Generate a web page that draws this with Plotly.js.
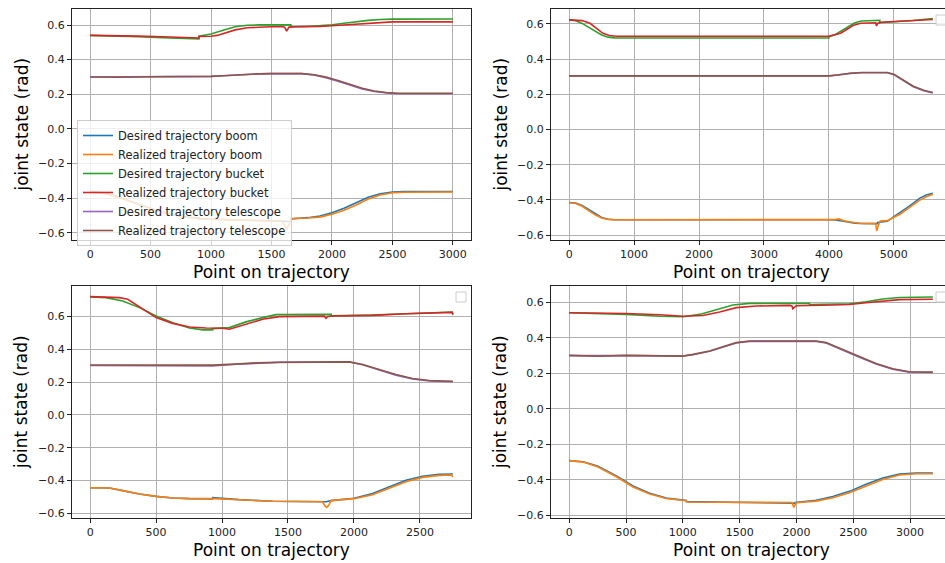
<!DOCTYPE html>
<html>
<head>
<meta charset="utf-8">
<script src="https://cdn.plot.ly/plotly-3.0.1.min.js"></script>
<style>
  html, body { margin: 0; padding: 0; overflow: hidden; background: #fff; }
  #chart { width: 960px; height: 563px; }
</style>
</head>
<body>
<div id="chart"></div>
<script>
// ---- Series names ----
const seriesNames = [
  "Desired trajectory boom", "Realized trajectory boom",
  "Desired trajectory bucket", "Realized trajectory bucket",
  "Desired trajectory telescope", "Realized trajectory telescope"
];
const seriesColors = ["#1f77b4", "#ff7f0e", "#2ca02c", "#d62728", "#9467bd", "#8c564b"];

// ---- Run 1 (3000 points) ----
const r1_boomDesX = [0, 100, 200, 300, 400, 500, 600, 700, 800, 900, 900, 1100, 1300, 1500, 1660, 1660, 1800, 1900, 2000, 2100, 2200, 2300, 2400, 2500, 2600, 3000];
const r1_boomDesY = [-0.362, -0.368, -0.385, -0.41, -0.435, -0.458, -0.48, -0.498, -0.51, -0.515, -0.52, -0.525, -0.53, -0.533, -0.535, -0.52, -0.513, -0.503, -0.485, -0.458, -0.425, -0.395, -0.375, -0.365, -0.362, -0.362];
const r1_boomRealX = [0, 100, 200, 300, 400, 500, 600, 700, 800, 900, 1000, 1200, 1400, 1580, 1600, 1625, 1645, 1660, 1800, 1900, 2000, 2100, 2200, 2300, 2400, 2500, 2600, 3000];
const r1_boomRealY = [-0.364, -0.37, -0.388, -0.413, -0.438, -0.46, -0.482, -0.5, -0.512, -0.518, -0.522, -0.526, -0.53, -0.532, -0.545, -0.58, -0.555, -0.518, -0.515, -0.51, -0.493, -0.47, -0.44, -0.405, -0.382, -0.369, -0.366, -0.365];
const r1_bucketDesX = [0, 200, 400, 600, 800, 900, 900, 1000, 1100, 1200, 1300, 1400, 1660, 1660, 1800, 1900, 2000, 2100, 2200, 2300, 2400, 2500, 3000];
const r1_bucketDesY = [0.54, 0.537, 0.532, 0.526, 0.521, 0.52, 0.535, 0.548, 0.57, 0.59, 0.599, 0.601, 0.601, 0.59, 0.591, 0.595, 0.601, 0.61, 0.619, 0.627, 0.632, 0.634, 0.635];
const r1_bucketRealX = [0, 200, 400, 600, 800, 900, 900, 1000, 1050, 1100, 1200, 1300, 1400, 1500, 1600, 1610, 1625, 1645, 1700, 1800, 1900, 2000, 2100, 2200, 2300, 2400, 2500, 3000];
const r1_bucketRealY = [0.54, 0.539, 0.536, 0.532, 0.527, 0.525, 0.534, 0.535, 0.54, 0.55, 0.572, 0.584, 0.588, 0.59, 0.59, 0.585, 0.565, 0.588, 0.59, 0.59, 0.592, 0.596, 0.601, 0.607, 0.612, 0.616, 0.618, 0.618];
const r1_teleDesX = [0, 900, 1000, 1100, 1200, 1300, 1400, 1500, 1750, 1850, 1950, 2050, 2150, 2250, 2350, 2450, 2550, 3000];
const r1_teleDesY = [0.30, 0.30, 0.303, 0.307, 0.312, 0.316, 0.318, 0.319, 0.319, 0.312, 0.296, 0.275, 0.252, 0.231, 0.216, 0.207, 0.203, 0.203];
const r1_teleRealX = [0, 250, 500, 900, 1000, 1100, 1200, 1300, 1400, 1500, 1750, 1850, 1950, 2050, 2150, 2250, 2350, 2450, 2550, 3000];
const r1_teleRealY = [0.30, 0.298, 0.301, 0.30, 0.303, 0.307, 0.312, 0.316, 0.318, 0.319, 0.319, 0.313, 0.299, 0.279, 0.256, 0.235, 0.219, 0.21, 0.206, 0.206];

// ---- Run 2 (5600 points) ----
const r2_boomDesX = [0, 100, 200, 300, 400, 500, 600, 700, 4000, 4100, 4200, 4300, 4400, 4500, 4750, 4750, 4900, 5000, 5100, 5200, 5300, 5400, 5500, 5600];
const r2_boomDesY = [-0.415, -0.418, -0.432, -0.455, -0.48, -0.5, -0.51, -0.513, -0.513, -0.514, -0.52, -0.527, -0.532, -0.534, -0.535, -0.528, -0.522, -0.495, -0.472, -0.445, -0.418, -0.39, -0.372, -0.362];
const r2_boomRealX = [0, 100, 200, 300, 400, 500, 600, 700, 4000, 4100, 4150, 4200, 4300, 4400, 4500, 4720, 4735, 4760, 4790, 4900, 5000, 5100, 5200, 5300, 5400, 5500, 5600];
const r2_boomRealY = [-0.416, -0.42, -0.436, -0.46, -0.485, -0.503, -0.511, -0.513, -0.513, -0.512, -0.508, -0.515, -0.524, -0.531, -0.534, -0.535, -0.576, -0.545, -0.52, -0.518, -0.501, -0.48, -0.454, -0.427, -0.401, -0.382, -0.368];
const r2_bucketDesX = [0, 100, 200, 300, 400, 500, 600, 700, 4000, 4000, 4100, 4200, 4300, 4400, 4500, 4784, 4784, 5000, 5300, 5600];
const r2_bucketDesY = [0.623, 0.618, 0.603, 0.58, 0.555, 0.537, 0.525, 0.521, 0.52, 0.528, 0.54, 0.562, 0.588, 0.607, 0.617, 0.621, 0.607, 0.612, 0.62, 0.631];
const r2_bucketRealX = [0, 100, 200, 320, 420, 520, 620, 730, 4000, 4070, 4180, 4280, 4380, 4490, 4640, 4720, 4733, 4750, 4794, 5000, 5360, 5600];
const r2_bucketRealY = [0.623, 0.621, 0.619, 0.604, 0.575, 0.547, 0.534, 0.53, 0.53, 0.536, 0.547, 0.57, 0.593, 0.604, 0.608, 0.607, 0.589, 0.603, 0.61, 0.613, 0.621, 0.625];
const r2_teleDesX = [0, 4000, 4150, 4330, 4500, 4900, 5000, 5150, 5300, 5460, 5600];
const r2_teleDesY = [0.304, 0.304, 0.31, 0.319, 0.323, 0.323, 0.312, 0.278, 0.243, 0.22, 0.208];
const r2_teleRealX = [0, 1000, 2000, 3000, 4000, 4150, 4330, 4500, 4900, 5000, 5150, 5300, 5460, 5600];
const r2_teleRealY = [0.305, 0.306, 0.305, 0.306, 0.305, 0.311, 0.32, 0.324, 0.324, 0.314, 0.28, 0.246, 0.223, 0.21];

// ---- Run 3 (2750 points) ----
const r3_boomDesX = [0, 146, 247, 374, 500, 626, 753, 929, 929, 1131, 1384, 1790, 1826, 2002, 2141, 2268, 2394, 2520, 2646, 2750];
const r3_boomDesY = [-0.444, -0.446, -0.462, -0.483, -0.497, -0.507, -0.511, -0.512, -0.505, -0.517, -0.527, -0.53, -0.523, -0.508, -0.48, -0.438, -0.398, -0.374, -0.362, -0.36];
const r3_boomRealX = [0, 146, 247, 374, 500, 626, 753, 929, 1131, 1384, 1763, 1780, 1793, 1810, 1826, 2002, 2141, 2268, 2394, 2520, 2646, 2740, 2750];
const r3_boomRealY = [-0.444, -0.446, -0.462, -0.483, -0.497, -0.507, -0.511, -0.511, -0.518, -0.527, -0.53, -0.555, -0.564, -0.55, -0.523, -0.511, -0.487, -0.448, -0.408, -0.381, -0.369, -0.367, -0.38];
const r3_bucketDesX = [0, 121, 247, 374, 500, 626, 753, 854, 929, 929, 1056, 1182, 1308, 1409, 1828, 1828, 2141, 2450, 2745, 2750];
const r3_bucketDesY = [0.72, 0.716, 0.696, 0.655, 0.604, 0.563, 0.531, 0.519, 0.519, 0.527, 0.533, 0.568, 0.594, 0.612, 0.614, 0.605, 0.61, 0.62, 0.628, 0.61];
const r3_bucketRealX = [0, 222, 285, 374, 500, 626, 753, 879, 1005, 1056, 1182, 1308, 1434, 1636, 1775, 1788, 1800, 1826, 2141, 2394, 2745, 2750];
const r3_bucketRealY = [0.722, 0.716, 0.706, 0.661, 0.594, 0.559, 0.537, 0.531, 0.529, 0.523, 0.553, 0.584, 0.6, 0.604, 0.603, 0.59, 0.6, 0.604, 0.608, 0.618, 0.626, 0.614];
const r3_teleDesX = [0, 929, 1100, 1258, 1434, 1965, 2066, 2192, 2318, 2444, 2571, 2750];
const r3_teleDesY = [0.302, 0.299, 0.309, 0.316, 0.321, 0.323, 0.306, 0.274, 0.243, 0.219, 0.207, 0.203];
const r3_teleRealX = [0, 929, 1100, 1258, 1434, 1965, 2066, 2192, 2318, 2444, 2571, 2750];
const r3_teleRealY = [0.305, 0.304, 0.31, 0.318, 0.322, 0.324, 0.308, 0.277, 0.247, 0.222, 0.21, 0.206];

// ---- Run 4 (3200 points) ----
const r4_boomDesX = [0, 123, 249, 416, 562, 709, 855, 999, 1031, 1031, 1500, 1990, 1990, 2173, 2320, 2466, 2613, 2759, 2906, 3052, 3200];
const r4_boomDesY = [-0.292, -0.298, -0.322, -0.378, -0.435, -0.476, -0.503, -0.513, -0.516, -0.523, -0.527, -0.532, -0.527, -0.515, -0.494, -0.465, -0.425, -0.39, -0.368, -0.362, -0.362];
const r4_boomRealX = [0, 123, 249, 416, 562, 709, 855, 999, 1031, 1045, 1500, 1960, 1977, 1998, 2173, 2320, 2466, 2613, 2759, 2906, 3052, 3200];
const r4_boomRealY = [-0.292, -0.3, -0.326, -0.383, -0.44, -0.48, -0.505, -0.514, -0.518, -0.525, -0.527, -0.528, -0.555, -0.529, -0.52, -0.501, -0.473, -0.436, -0.398, -0.373, -0.366, -0.366];
const r4_bucketDesX = [0, 500, 797, 1002, 1148, 1295, 1441, 1588, 2115, 2115, 2466, 2613, 2759, 2906, 3200];
const r4_bucketDesY = [0.541, 0.532, 0.522, 0.519, 0.532, 0.56, 0.585, 0.594, 0.594, 0.588, 0.592, 0.603, 0.619, 0.627, 0.63];
const r4_bucketRealX = [0, 500, 800, 1002, 1177, 1324, 1471, 1646, 1939, 1960, 1968, 1998, 2320, 2466, 2613, 2759, 2906, 3200];
const r4_bucketRealY = [0.541, 0.537, 0.53, 0.522, 0.526, 0.545, 0.57, 0.579, 0.583, 0.58, 0.564, 0.581, 0.585, 0.588, 0.598, 0.607, 0.615, 0.617];
const r4_teleDesX = [0, 250, 500, 1000, 1090, 1236, 1353, 1470, 1588, 2173, 2261, 2408, 2554, 2700, 2847, 2993, 3200];
const r4_teleDesY = [0.30, 0.298, 0.30, 0.298, 0.305, 0.324, 0.348, 0.371, 0.38, 0.38, 0.371, 0.333, 0.291, 0.253, 0.223, 0.207, 0.205];
const r4_teleRealX = [0, 250, 500, 1000, 1090, 1236, 1353, 1470, 1588, 2173, 2261, 2408, 2554, 2700, 2847, 2993, 3200];
const r4_teleRealY = [0.301, 0.296, 0.301, 0.297, 0.307, 0.326, 0.35, 0.373, 0.382, 0.382, 0.373, 0.335, 0.294, 0.256, 0.226, 0.209, 0.207];

// ---- Axis ticks ----
const yTickVals = [-0.6, -0.4, -0.2, 0.0, 0.2, 0.4, 0.6];
const xTickStep = [500, 1000, 500, 500];

const runs = [
  [[r1_boomDesX, r1_boomDesY], [r1_boomRealX, r1_boomRealY], [r1_bucketDesX, r1_bucketDesY],
   [r1_bucketRealX, r1_bucketRealY], [r1_teleDesX, r1_teleDesY], [r1_teleRealX, r1_teleRealY]],
  [[r2_boomDesX, r2_boomDesY], [r2_boomRealX, r2_boomRealY], [r2_bucketDesX, r2_bucketDesY],
   [r2_bucketRealX, r2_bucketRealY], [r2_teleDesX, r2_teleDesY], [r2_teleRealX, r2_teleRealY]],
  [[r3_boomDesX, r3_boomDesY], [r3_boomRealX, r3_boomRealY], [r3_bucketDesX, r3_bucketDesY],
   [r3_bucketRealX, r3_bucketRealY], [r3_teleDesX, r3_teleDesY], [r3_teleRealX, r3_teleRealY]],
  [[r4_boomDesX, r4_boomDesY], [r4_boomRealX, r4_boomRealY], [r4_bucketDesX, r4_bucketDesY],
   [r4_bucketRealX, r4_bucketRealY], [r4_teleDesX, r4_teleDesY], [r4_teleRealX, r4_teleRealY]]
];

// ---- Page geometry (pixels) ----
const W = 960, H = 563;
const fx = px => px / W;
const fy = py => 1 - py / H;

// plot boxes: [left, right, top, bottom]
const boxes = [
  [72, 471, 9, 240],
  [551, 951, 9, 240],
  [72, 471, 286, 518],
  [551, 951, 286, 518]
];
const xRanges = [[-150, 3150], [-280, 5880], [-137.5, 2887.5], [-160, 3360]];
const yRanges = [[-0.642, 0.6925], [-0.628, 0.685], [-0.629, 0.787], [-0.615, 0.692]];

const FONT = "DejaVu Sans, Liberation Sans, sans-serif";

const traces = [];
runs.forEach((run, p) => {
  const xa = p === 0 ? "x" : "x" + (p + 1);
  const ya = p === 0 ? "y" : "y" + (p + 1);
  run.forEach((s, k) => {
    traces.push({
      type: "scatter", mode: "lines",
      x: s[0], y: s[1],
      xaxis: xa, yaxis: ya,
      name: seriesNames[k],
      showlegend: p === 0,
      line: { color: seriesColors[k], width: 1.6 },
      hoverinfo: "x+y+name"
    });
  });
});

const layout = {
  width: W, height: H,
  margin: { l: 0, r: 0, t: 0, b: 0 },
  paper_bgcolor: "#ffffff",
  plot_bgcolor: "#ffffff",
  font: { family: FONT, size: 11, color: "#222" },
  showlegend: true,
  legend: {
    x: fx(77), y: fy(120), xanchor: "left", yanchor: "top",
    bgcolor: "rgba(255,255,255,0.8)",
    bordercolor: "#cccccc", borderwidth: 1,
    font: { family: FONT, size: 11.5, color: "#222" },
    tracegroupgap: 0
  },
  annotations: [],
  shapes: []
};

boxes.forEach((b, p) => {
  const suf = p === 0 ? "" : String(p + 1);
  const common = {
    showline: true, mirror: true, linecolor: "#222", linewidth: 1,
    ticks: "outside", ticklen: 4, tickwidth: 1, tickcolor: "#222",
    showgrid: true, gridcolor: "#b0b0b0", gridwidth: 1,
    zeroline: false,
    tickfont: { family: FONT, size: 11, color: "#222" }
  };
  layout["xaxis" + suf] = Object.assign({}, common, {
    domain: [fx(b[0]), fx(b[1])],
    range: xRanges[p],
    anchor: "y" + suf,
    tick0: 0, dtick: xTickStep[p],
    tickformat: "d"
  });
  layout["yaxis" + suf] = Object.assign({}, common, {
    domain: [fy(b[3]), fy(b[2])],
    range: yRanges[p],
    anchor: "x" + suf,
    tickmode: "array", tickvals: yTickVals,
    tickformat: ".1f"
  });

  // axis titles
  const titleY = p < 2 ? 272 : 550;
  layout.annotations.push({
    text: "Point on trajectory", showarrow: false,
    xref: "paper", yref: "paper",
    x: fx((b[0] + b[1]) / 2), y: fy(titleY),
    xanchor: "center", yanchor: "middle",
    font: { family: FONT, size: 17, color: "#000" }
  });
  layout.annotations.push({
    text: "joint state (rad)", showarrow: false, textangle: -90,
    xref: "paper", yref: "paper",
    x: fx(p % 2 === 0 ? 21 : 500), y: fy((b[2] + b[3]) / 2),
    xanchor: "center", yanchor: "middle",
    font: { family: FONT, size: 17, color: "#000" }
  });

  // empty legend frames in the upper-right corner of the other panels
  if (p > 0) {
    layout.shapes.push({
      type: "rect", xref: "paper", yref: "paper",
      x0: fx(b[1] - 15), x1: fx(b[1] - 5),
      y0: fy(b[2] + 6), y1: fy(b[2] + 16),
      fillcolor: "rgba(255,255,255,0.8)",
      line: { color: "#cccccc", width: 1 }
    });
  }
});

Plotly.newPlot("chart", traces, layout, { displayModeBar: false, staticPlot: true });
</script>
</body>
</html>
